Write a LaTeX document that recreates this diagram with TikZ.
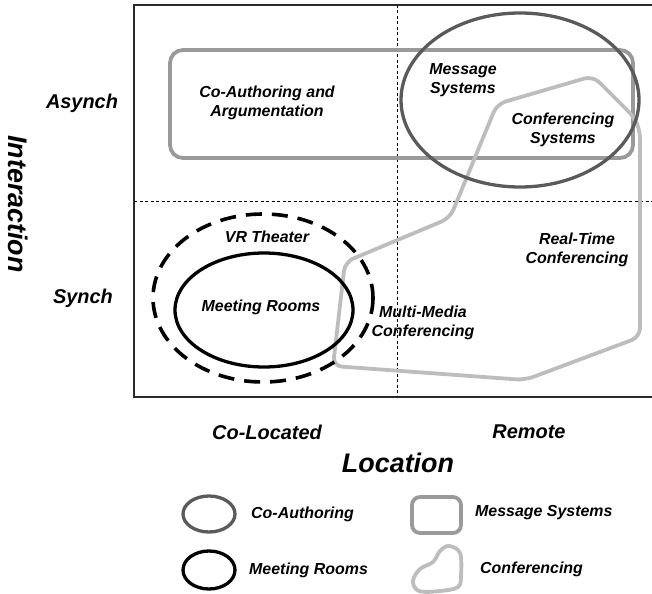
\documentclass[tikz,border=0pt]{standalone}
\usepackage{fontspec}
\setmainfont{Liberation Sans}
\begin{document}
\begin{tikzpicture}[x=1bp,y=-1bp,
  lbl/.style={font=\fontsize{16}{19.5}\selectfont\bfseries\itshape, align=center, inner sep=0pt},
  axlbl/.style={font=\fontsize{20}{24}\selectfont\bfseries\itshape, inner sep=0pt},
  bigaxlbl/.style={font=\fontsize{27}{32}\selectfont\bfseries\itshape, inner sep=0pt},
  msgshape/.style={draw=msgc, line width=3.8bp, rounded corners=13bp},
  coaushape/.style={draw=coauc, line width=3.3bp},
  confshape/.style={draw=confc, line width=3.8bp, rounded corners=9bp},
  meetshape/.style={draw=black, line width=3.3bp},
  vrshape/.style={draw=black, line width=3.6bp, dash pattern=on 16bp off 10bp},
  gridline/.style={draw=black, line width=0.7bp, dash pattern=on 3bp off 2.5bp},
  framec/.style={draw=framegray, line width=1.5bp}]
\definecolor{msgc}{HTML}{9A9A9A}
\definecolor{coauc}{HTML}{5A5A5A}
\definecolor{confc}{HTML}{BDBDBD}
\definecolor{framegray}{HTML}{2A2A2A}
\useasboundingbox (0,0) rectangle (652,594);
% frame and grid
\coordinate (ftr) at (652,5);
\coordinate (ftl) at (134,5);
\coordinate (fbl) at (134,397);
\coordinate (fbr) at (652,397);
\draw[framec] (ftr) -- (ftl) -- (fbl) -- (fbr);
\coordinate (vt) at (397,5);
\coordinate (vb) at (397,397);
\coordinate (hl) at (134,201);
\coordinate (hr) at (652,201);
\draw[gridline] (vt) -- (vb);
\draw[gridline] (hl) -- (hr);
% message systems rounded rectangle
\draw[msgshape] (170,50) rectangle (633,158);
% conferencing polygon
\draw[confshape] (345,262) -- (450,218) -- (497,104) -- (593,76) -- (634,117) -- (640,130) -- (640,337) -- (525,380) -- (333,366) -- cycle;
% co-authoring ellipse
\draw[coaushape] (520,100) ellipse [x radius=119, y radius=87];
% VR theater
\draw[vrshape] (263,298) ellipse [x radius=110, y radius=84];
% meeting rooms
\draw[meetshape] (264,310) ellipse [x radius=89, y radius=57];
% labels
\node[lbl] (coau) at (267,103) {Co-Authoring and\\Argumentation};
\node[lbl] (msg) at (463,80) {Message\\Systems};
\node[lbl] (confsys) at (563,130) {Conferencing\\Systems};
\node[lbl] (vr) at (267,237) {VR Theater};
\node[lbl] (meet) at (261,307) {Meeting Rooms};
\node[lbl] (mm) at (423,323) {Multi-Media\\Conferencing};
\node[lbl] (rt) at (577,250) {Real-Time\\Conferencing};
% axes labels
\node[axlbl] (async) at (82,103) {Asynch};
\node[axlbl] (sync) at (83,298) {Synch};
\node[bigaxlbl, rotate=-90] (inter) at (18,204) {Interaction};
\node[axlbl] (coloc) at (267,432) {Co-Located};
\node[axlbl] (remote) at (529,432) {Remote};
\node[bigaxlbl] (loc) at (398,463) {Location};
% legend
\draw[coaushape] (209,514) ellipse [x radius=26, y radius=18];
\node[lbl, anchor=west] (lgcoau) at (251,514) {Co-Authoring};
\draw[meetshape] (209,570) ellipse [x radius=26, y radius=19];
\node[lbl, anchor=west] (lgmeet) at (249,570) {Meeting Rooms};
\draw[msgshape, rounded corners=8bp] (412,497) rectangle (461,533);
\node[lbl, anchor=west] (lgmsg) at (475,513) {Message Systems};
\draw[confshape, rounded corners=0bp] plot[smooth cycle, tension=0.6] coordinates {(449,546) (460,553) (461,575) (458,587) (440,591) (419,591) (413,581) (420,569) (433,562) (440,551)};
\node[lbl, anchor=west] (lgconf) at (480,569) {Conferencing};
\end{tikzpicture}
\end{document}
